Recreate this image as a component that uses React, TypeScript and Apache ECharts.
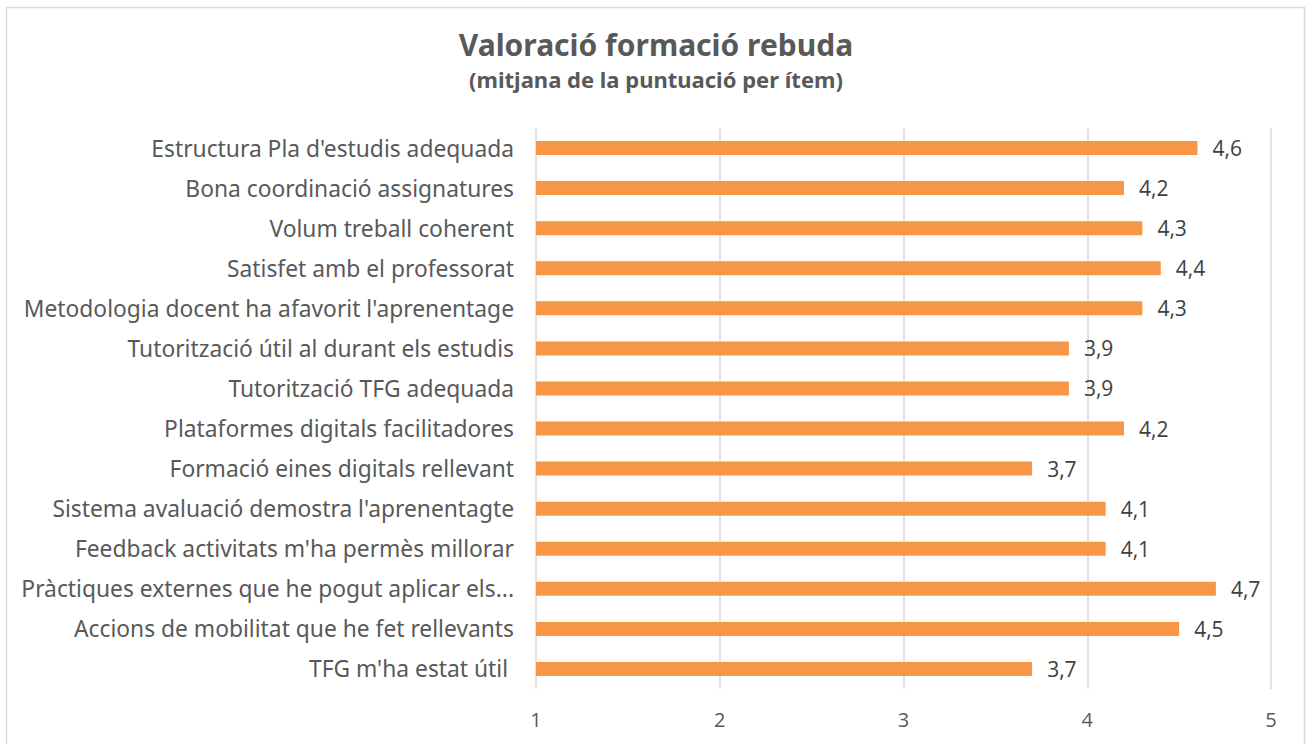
import React, { useEffect, useRef } from "react";
import * as echarts from "echarts";

const categories: string[] = [
  "Estructura Pla d'estudis adequada",
  "Bona coordinació assignatures",
  "Volum treball coherent",
  "Satisfet amb el professorat",
  "Metodologia docent ha afavorit l'aprenentage",
  "Tutorització útil al durant els estudis",
  "Tutorització TFG adequada",
  "Plataformes digitals facilitadores",
  "Formació eines digitals rellevant",
  "Sistema avaluació demostra l'aprenentagte",
  "Feedback activitats m'ha permès millorar",
  "Pràctiques externes que he pogut aplicar els...",
  "Accions de mobilitat que he fet rellevants",
  "TFG m'ha estat útil ",
];

const values: number[] = [4.6, 4.2, 4.3, 4.4, 4.3, 3.9, 3.9, 4.2, 3.7, 4.1, 4.1, 4.7, 4.5, 3.7];

const xTicks: number[] = [1, 2, 3, 4, 5];

export default function App() {
  const ref = useRef<HTMLDivElement>(null);
  useEffect(() => {
    if (!ref.current) return;
    const chart = echarts.init(ref.current, undefined, { renderer: "svg" });
    chart.setOption({
      animation: false,
      backgroundColor: "#ffffff",
      title: [
        {
          text: "Valoració formació rebuda",
          left: 656,
          textAlign: "center",
          top: 29,
          padding: 0,
          textStyle: { fontFamily: "Noto Sans", fontSize: 30, fontWeight: "bold", color: "#595959" },
        },
        {
          text: "(mitjana de la puntuació per ítem)",
          left: 656,
          textAlign: "center",
          top: 68,
          padding: 0,
          textStyle: { fontFamily: "Noto Sans", fontSize: 22, fontWeight: "bold", color: "#595959" },
        },
      ],
      graphic: [
        {
          type: "rect",
          shape: { x: 6.5, y: 7.5, width: 1298, height: 760 },
          style: { fill: "none", stroke: "#d9d9d9", lineWidth: 1.5 },
          silent: true,
        },
      ],
      grid: { left: 536, right: 1307 - 1271, top: 128, bottom: 744 - 689, containLabel: false },
      xAxis: {
        type: "value",
        min: xTicks[0],
        max: xTicks[xTicks.length - 1],
        interval: 1,
        axisLine: { show: false },
        axisTick: { show: false },
        splitLine: { show: true, lineStyle: { color: "#d9d9d9", width: 1.5 } },
        axisLabel: { fontFamily: "Open Sans", fontSize: 20, color: "#595959", margin: 20 },
      },
      yAxis: {
        type: "category",
        inverse: true,
        data: categories,
        axisLine: { show: false },
        axisTick: { show: false },
        axisLabel: { fontFamily: "Noto Sans", fontSize: 22.8, color: "#595959", margin: 22 },
      },
      series: [
        {
          type: "bar",
          data: values,
          barWidth: 14,
          itemStyle: { color: "#f79646" },
          label: {
            show: true,
            position: "right",
            distance: 15,
            formatter: (p: any) => String(p.value).replace(".", ","),
            fontFamily: "Open Sans",
            fontSize: 21,
            color: "#404040",
          },
        },
      ],
    });
    return () => chart.dispose();
  }, []);
  return (
    <div
      ref={ref}
      style={{ position: "absolute", left: 0, top: 0, width: 1307, height: 744 }}
    />
  );
}
